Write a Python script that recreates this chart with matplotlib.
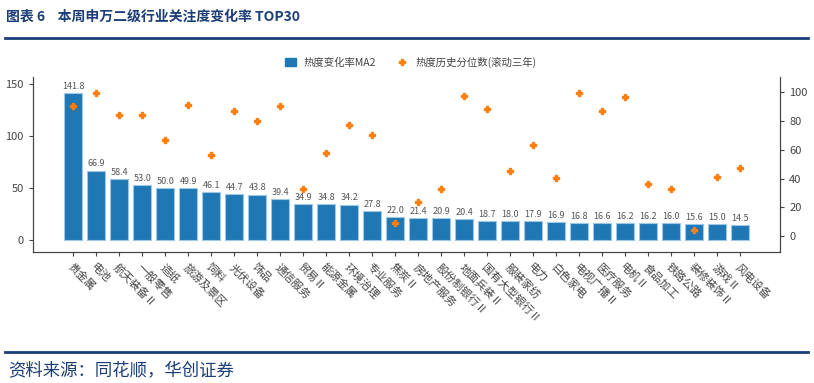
import matplotlib.pyplot as plt
from matplotlib.lines import Line2D
from matplotlib.patches import Patch

plt.rcParams['font.family'] = ['Noto Sans CJK SC', 'DejaVu Sans']

# data
industries = ['贵金属', '电池', '航天装备Ⅱ', '一般零售', '造纸', '旅游及景区', '饲料', '光伏设备',
              '饰品', '通信服务', '贸易Ⅱ', '能源金属', '环境治理', '专业服务', '焦炭Ⅱ', '房地产服务',
              '股份制银行Ⅱ', '地面兵装Ⅱ', '国有大型银行Ⅱ', '服装家纺', '电力', '白色家电',
              '电视广播Ⅱ', '医疗服务', '电机Ⅱ', '食品加工', '铁路公路', '装修装饰Ⅱ', '游戏Ⅱ', '风电设备']
heat_change = [141.8, 66.9, 58.4, 53.0, 50.0, 49.9, 46.1, 44.7, 43.8, 39.4,
               34.9, 34.8, 34.2, 27.8, 22.0, 21.4, 20.9, 20.4, 18.7, 18.0,
               17.9, 16.9, 16.8, 16.6, 16.2, 16.2, 16.0, 15.6, 15.0, 14.5]
percentile = [90.5, 99.5, 84, 84, 67, 91, 56, 87, 80, 90.5,
              33, 58, 77, 70, 9, 24, 33, 97, 88, 45,
              63, 40.5, 99.5, 87, 96.5, 36, 32.5, 4.5, 41, 47]

navy = '#1b3d78'
grey = '#555555'

fig = plt.figure(figsize=(8.14, 3.83), dpi=100)
ax = fig.add_axes([0.0405, 0.342, 0.918, 0.457])
ax2 = ax.twinx()

x = range(len(industries))
bars = ax.bar(x, heat_change, width=0.78, color='#1f77b4', edgecolor='#9cc8ea', linewidth=0.8)
for xi, v in zip(x, heat_change):
    ax.text(xi, v + 2, f'{v:.1f}', ha='center', va='bottom', fontsize=6.5, color=grey)

ax2.plot(list(x), percentile, linestyle='none', marker='P', markersize=4, color='#ff7f0e')

ax.set_xlim(-1.75, 30.74)
ax.set_ylim(-11.5, 156.9)
ax2.set_ylim(-10.9, 110.4)
ax.set_yticks([0, 50, 100, 150])
ax2.set_yticks([0, 20, 40, 60, 80, 100])
ax.set_xticks(list(x))
ax.set_xticklabels(industries, rotation=-45, ha='left', va='top', rotation_mode='anchor',
                   fontsize=7, color='#666666')
for a in (ax, ax2):
    a.spines['top'].set_visible(False)
    for s in a.spines.values():
        s.set_color('#444444')
        s.set_linewidth(0.8)
    a.tick_params(labelsize=8, colors='#444444', length=3, width=0.8)
ax.tick_params(axis='x', pad=4)

handles = [Patch(facecolor='#1f77b4', edgecolor='#1f77b4'),
           Line2D([], [], linestyle='none', marker='P', markersize=4, color='#ff7f0e')]
fig.legend(handles, ['热度变化率MA2', '热度历史分位数(滚动三年)'], loc='center',
           bbox_to_anchor=(0.505, 0.838), ncol=2, frameon=False, fontsize=7.5,
           handlelength=1.0, handleheight=0.9, columnspacing=2.0, labelcolor='#444444')

# header and footer
fig.text(0.007, 0.956, '图表 6    本周申万二级行业关注度变化率 TOP30', fontsize=10,
         fontweight='bold', color=navy, va='center', ha='left')
fig.add_artist(Line2D([0.006, 0.993], [0.9, 0.9], color=navy, linewidth=2))
fig.add_artist(Line2D([0.006, 0.993], [0.081, 0.081], color=navy, linewidth=2))
fig.text(0.01, 0.03, '资料来源：同花顺，华创证券', fontsize=12.5, color=navy, va='center', ha='left')

fig.savefig('out.png', dpi=100)
